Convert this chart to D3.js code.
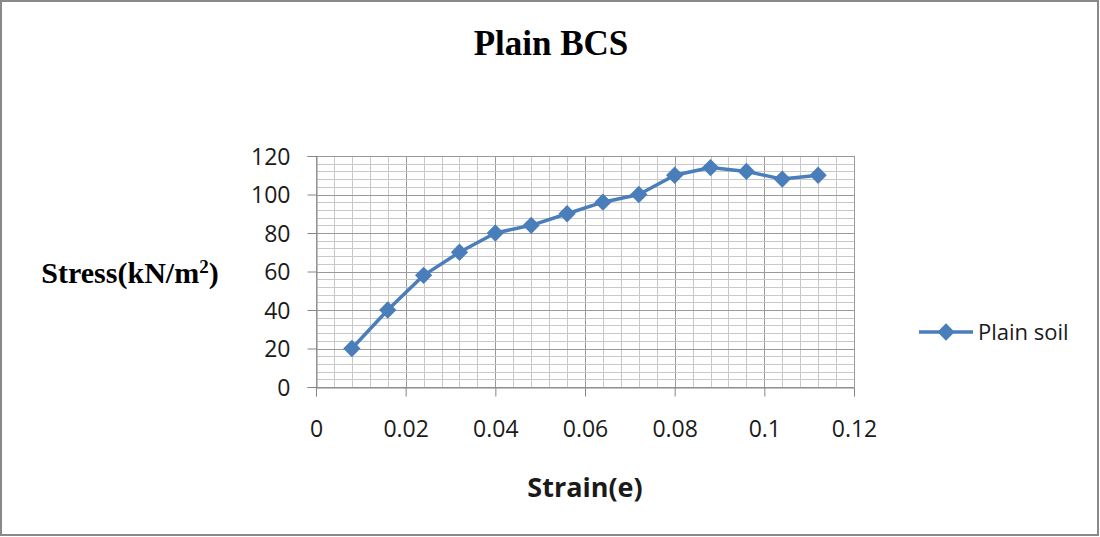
<!DOCTYPE html>
<html>
<head>
<meta charset="utf-8">
<script src="https://cdn.jsdelivr.net/npm/d3@7"></script>
<style>
  body { margin: 0; background: #fff; }
  svg { display: block; }
</style>
</head>
<body>
<svg id="chart"></svg>
<script>
var strain = [0.008, 0.016, 0.024, 0.032, 0.04, 0.048, 0.056, 0.064, 0.072, 0.08, 0.088, 0.096, 0.104, 0.112];
var stress = [20, 40, 58, 70, 80, 84, 90, 96, 100, 110, 114, 112, 108, 110];
var xTicks = [0, 0.02, 0.04, 0.06, 0.08, 0.1, 0.12];
var yTicks = [0, 20, 40, 60, 80, 100, 120];
var seriesName = 'Plain soil';

var WIDTH = 1100, HEIGHT = 537;
var svg = d3.select('#chart').attr('width', WIDTH).attr('height', HEIGHT);
var lineColor = '#4a7ebb';
var tickFont = '"Open Sans", "Liberation Sans", sans-serif';

// outer border
svg.append('rect')
  .attr('x', 1).attr('y', 1)
  .attr('width', WIDTH - 3).attr('height', HEIGHT - 3)
  .attr('fill', '#fff').attr('stroke', '#898989').attr('stroke-width', 2);

var x = d3.scaleLinear().domain([0, 0.12]).range([316, 854]);
var y = d3.scaleLinear().domain([0, 120]).range([387, 156]);

var grid = svg.append('g');
// minor + major grid
d3.range(0, 30).forEach(function(i) {
  var v = i * 0.004;
  grid.append('line')
    .attr('x1', Math.round(x(v)) + 0.5).attr('x2', Math.round(x(v)) + 0.5)
    .attr('y1', y(120)).attr('y2', y(0))
    .attr('stroke', i % 5 === 0 ? '#9a9a9a' : '#c8c8c8').attr('stroke-width', 1);
});
d3.range(0, 30).forEach(function(i) {
  var v = i * 4;
  grid.append('line')
    .attr('x1', x(0)).attr('x2', x(0.12))
    .attr('y1', Math.round(y(v)) + 0.5).attr('y2', Math.round(y(v)) + 0.5)
    .attr('stroke', i % 5 === 0 ? '#9a9a9a' : '#c8c8c8').attr('stroke-width', 1);
});
// right / top edges
grid.append('line')
  .attr('x1', Math.round(x(0.12)) + 0.5).attr('x2', Math.round(x(0.12)) + 0.5)
  .attr('y1', y(120)).attr('y2', y(0)).attr('stroke', '#9a9a9a');
grid.append('line')
  .attr('x1', x(0)).attr('x2', x(0.12))
  .attr('y1', Math.round(y(120)) + 0.5).attr('y2', Math.round(y(120)) + 0.5).attr('stroke', '#9a9a9a');

// axes
var xAxis = svg.append('g')
  .attr('transform', 'translate(0,' + (Math.round(y(0)) + 0.5) + ')')
  .call(d3.axisBottom(x).tickValues(xTicks).tickFormat(d3.format('~g')).tickSizeOuter(0).tickSize(9).tickPadding(24));
var yAxis = svg.append('g')
  .attr('transform', 'translate(' + (Math.round(x(0)) + 0.5) + ',0)')
  .call(d3.axisLeft(y).tickValues(yTicks).tickSizeOuter(0).tickSize(9).tickPadding(17));

[xAxis, yAxis].forEach(function(a) {
  a.select('.domain').attr('stroke', '#868686');
  a.selectAll('.tick line').attr('stroke', '#868686');
  a.selectAll('.tick text')
    .attr('fill', '#1a1a1a')
    .style('font-family', tickFont)
    .style('font-size', '23px');
});
yAxis.selectAll('.tick text').attr('dy', '0.36em');

// series line
var line = d3.line()
  .x(function(d, i) { return x(strain[i]); })
  .y(function(d) { return y(d); });

svg.append('path')
  .datum(stress)
  .attr('d', line)
  .attr('fill', 'none')
  .attr('stroke', lineColor)
  .attr('stroke-width', 3.5)
  .attr('stroke-linejoin', 'round');

var diamond = d3.symbol().type(d3.symbolDiamond2).size(190);
svg.append('g').selectAll('path')
  .data(stress)
  .enter().append('path')
  .attr('d', diamond)
  .attr('transform', function(d, i) { return 'translate(' + x(strain[i]) + ',' + y(d) + ')'; })
  .attr('fill', lineColor);

// title
svg.append('text')
  .attr('x', 551).attr('y', 55)
  .attr('text-anchor', 'middle')
  .style('font-family', '"Liberation Serif", "Times New Roman", serif')
  .style('font-weight', 'bold')
  .style('font-size', '35px')
  .attr('fill', '#000')
  .text('Plain BCS');

// y axis title
var yTitle = svg.append('text')
  .attr('x', 130).attr('y', 283)
  .attr('text-anchor', 'middle')
  .style('font-family', '"Liberation Serif", "Times New Roman", serif')
  .style('font-weight', 'bold')
  .style('font-size', '30px')
  .attr('fill', '#000');
yTitle.append('tspan').text('Stress(kN/m');
yTitle.append('tspan').attr('dy', -10).style('font-size', '19px').text('2');
yTitle.append('tspan').attr('dy', 10).text(')');

// x axis title
svg.append('text')
  .attr('x', 585).attr('y', 497)
  .attr('text-anchor', 'middle')
  .style('font-family', tickFont)
  .style('font-weight', 'bold')
  .style('font-size', '27px')
  .attr('fill', '#1a1a1a')
  .text('Strain(e)');

// legend
var legend = svg.append('g').attr('transform', 'translate(919,332)');
legend.append('line')
  .attr('x1', 0).attr('x2', 54).attr('y1', 0).attr('y2', 0)
  .attr('stroke', lineColor).attr('stroke-width', 3.5);
legend.append('path')
  .attr('d', diamond)
  .attr('transform', 'translate(27,0)')
  .attr('fill', lineColor);
legend.append('text')
  .attr('x', 59).attr('y', 0).attr('dy', '0.35em')
  .style('font-family', tickFont)
  .style('font-size', '22px')
  .attr('fill', '#1a1a1a')
  .text(seriesName);
</script>
</body>
</html>
